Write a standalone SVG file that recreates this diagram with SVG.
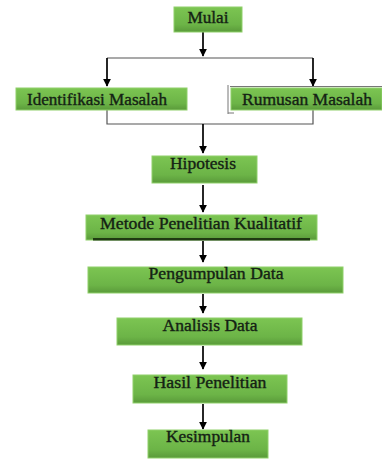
<svg xmlns="http://www.w3.org/2000/svg" width="382" height="460" viewBox="0 0 382 460">
<defs>
<linearGradient id="g" x1="0" y1="0" x2="0" y2="1">
<stop offset="0" stop-color="#7cc552"/>
<stop offset="0.7" stop-color="#6cb447"/>
<stop offset="1" stop-color="#5a9a3a"/>
</linearGradient>
<marker id="ah" viewBox="0 0 10 10" refX="9" refY="5" markerWidth="8" markerHeight="8" markerUnits="userSpaceOnUse" orient="auto">
<path d="M0,0 L10,5 L0,10 z" fill="#000"/>
</marker>
<style>
.box{fill:url(#g);stroke:#8fd06a;stroke-width:1;}
.t{font-family:"Liberation Serif","DejaVu Serif","Times New Roman",serif;font-size:16px;fill:#142214;stroke:#142214;stroke-width:0.35;text-anchor:middle;}
.arr{stroke:#000;stroke-width:1.7;fill:none;marker-end:url(#ah);}
.ln{stroke:#555;stroke-width:1.2;fill:none;}
</style>
</defs>
<rect width="382" height="460" fill="#fff"/>
<g id="connectors">
<path class="arr" d="M203,32 V56"/>
<path class="ln" d="M107,58 H313"/>
<path class="arr" d="M107,58 V86"/>
<path class="arr" d="M313,58 V86"/>
<path class="ln" d="M107,110 V124 H313 V110"/>
<path class="arr" d="M203,124 V153"/>
<path class="arr" d="M203,185 V212"/>
<path class="arr" d="M203,241 V262"/>
<path class="arr" d="M203,294 V313"/>
<path class="arr" d="M203,346 V369"/>
<path class="arr" d="M203,404 V429"/>
<path d="M230,86.5 H382 M228,85 V114 M228,113 H234" stroke="#777" stroke-width="1" fill="none"/>
</g>
<g id="mulai"><rect class="box" x="174" y="7" width="68" height="25"/><text class="t" x="208" y="23" textLength="41" lengthAdjust="spacingAndGlyphs">Mulai</text></g>
<g id="identifikasi"><rect class="box" x="16" y="88" width="171" height="22"/><text class="t" x="97" y="105" textLength="140" lengthAdjust="spacingAndGlyphs">Identifikasi Masalah</text></g>
<g id="rumusan"><rect class="box" x="231" y="88" width="151" height="22"/><text class="t" x="307" y="105" textLength="130" lengthAdjust="spacingAndGlyphs">Rumusan Masalah</text></g>
<g id="hipotesis"><rect class="box" x="152" y="156" width="105" height="27"/><text class="t" x="203" y="169" textLength="66" lengthAdjust="spacingAndGlyphs">Hipotesis</text></g>
<g id="metode"><rect class="box" x="86" y="215" width="231" height="25"/><rect x="93" y="238" width="217" height="2.5" fill="#1f3a12"/><text class="t" x="201" y="229" textLength="202" lengthAdjust="spacingAndGlyphs">Metode Penelitian Kualitatif</text></g>
<g id="pengumpulan"><rect class="box" x="88" y="267" width="255" height="26"/><text class="t" x="216" y="279" textLength="135" lengthAdjust="spacingAndGlyphs">Pengumpulan Data</text></g>
<g id="analisis"><rect class="box" x="117" y="318" width="185" height="27"/><text class="t" x="210" y="331" textLength="95" lengthAdjust="spacingAndGlyphs">Analisis Data</text></g>
<g id="hasil"><rect class="box" x="133" y="375" width="154" height="28"/><text class="t" x="210" y="388" textLength="113" lengthAdjust="spacingAndGlyphs">Hasil Penelitian</text></g>
<g id="kesimpulan"><rect class="box" x="148" y="430" width="120" height="28"/><text class="t" x="208" y="442" textLength="84" lengthAdjust="spacingAndGlyphs">Kesimpulan</text></g>
</svg>
